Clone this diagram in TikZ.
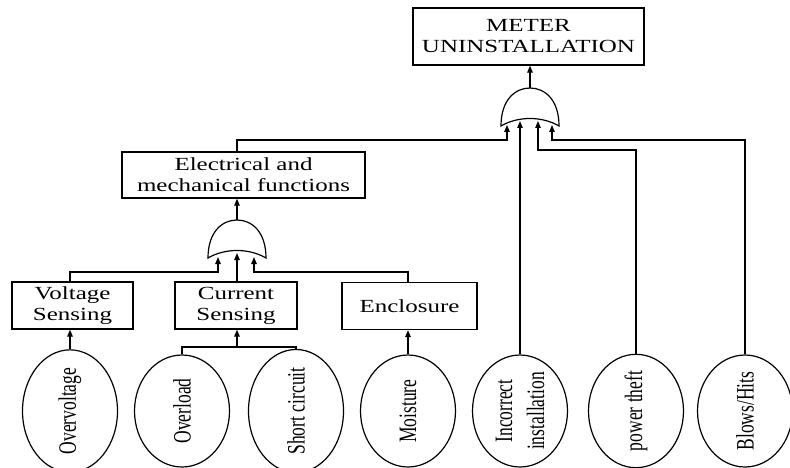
\documentclass[tikz,border=0pt]{standalone}
\usepackage{fontspec}
\setmainfont{Liberation Serif}
\newfontfamily\widefont[FakeStretch=1.35]{Liberation Serif}
\newfontfamily\tallfont[FakeStretch=0.7]{Liberation Serif}
\usetikzlibrary{arrows.meta,shapes.geometric}

\tikzset{
  box/.style={draw, line width=1.3pt, align=center, inner sep=0pt,
    font=\widefont\fontsize{18.5}{21}\selectfont},
  event/.style={draw, ellipse, line width=1.2pt, minimum width=112pt,
    minimum height=95pt, inner sep=0pt, align=center, rotate=90,
    font=\tallfont\fontsize{25}{32}\selectfont},
  link/.style={line width=1.2pt},
  up/.style={link, -{Triangle[length=7pt,width=5.5pt]}},
  orgate/.pic={
    \draw[line width=1.2pt] (-29,38) .. controls (-29,12) and (-15,0) .. (0,0)
      .. controls (15,0) and (29,12) .. (29,38)
      .. controls (12,28) and (-12,28) .. cycle;
    \coordinate (-out) at (0,0);
  }
}

\begin{document}
\begin{tikzpicture}[x=1pt, y=-1pt]
  \useasboundingbox (0,0) rectangle (790,468);

  % top event and gates
  \node[box, minimum width=231pt, minimum height=57pt] at (528.5,36.5) (meter) {METER\\UNINSTALLATION};
  \pic at (530,88) (g1) {orgate};
  \node[box, minimum width=243pt, minimum height=46pt] at (243.5,175) (elec) {Electrical and\\mechanical functions};
  \pic at (237,220) (g2) {orgate};

  % intermediate events
  \node[box, minimum width=121pt, minimum height=47pt] at (72.5,305.5) (volt) {Voltage\\Sensing};
  \node[box, minimum width=122pt, minimum height=47pt] at (236,305.5) (curr) {Current\\Sensing};
  \node[box, minimum width=135pt, minimum height=47pt] at (409.5,306) (encl) {Enclosure};

  % basic events
  \node[event] at (70,411) (overv) {Overvoltage};
  \node[event] at (182,411) (overl) {Overload};
  \node[event] at (296,411) (short) {Short circuit};
  \node[event] at (408,411) (moist) {Moisture};
  \node[event] at (520,411) (incor) {Incorrect\\installation};
  \node[event] at (636,411) (theft) {power theft};
  \node[event] at (745,411) (blows) {Blows/Hits};

  % gate inputs
  \coordinate (g1a) at (507,125);
  \coordinate (g1b) at (520,121);
  \coordinate (g1c) at (538,121);
  \coordinate (g1d) at (552,125);
  \coordinate (g2a) at (218,257);
  \coordinate (g2b) at (237,253);
  \coordinate (g2c) at (254,257);
  \coordinate (cs) at (237,347);

  \draw[up] (g1-out) -- (meter.south -| g1-out);
  \draw[up] (g2-out) -- (elec.south -| g2-out);

  \draw[up] (elec.north -| g2-out) |- (507,140) -- (g1a);
  \draw[up] (incor.east) -- (g1b);
  \draw[up] (theft.east) |- (538,150) -- (g1c);
  \draw[up] (blows.east) |- (552,140) -- (g1d);

  \draw[up] (volt.north -| overv.east) |- (218,272) -- (g2a);
  \draw[up] (curr.north -| g2-out) -- (g2b);
  \draw[up] (encl.north -| moist.east) |- (254,272) -- (g2c);

  \draw[up] (overv.east) -- (volt.south -| overv.east);
  \draw[link] (overl.east) |- (cs) -| (short.east);
  \draw[up] (cs) -- (curr.south -| cs);
  \draw[up] (moist.east) -- (encl.south -| moist.east);
\end{tikzpicture}
\end{document}
